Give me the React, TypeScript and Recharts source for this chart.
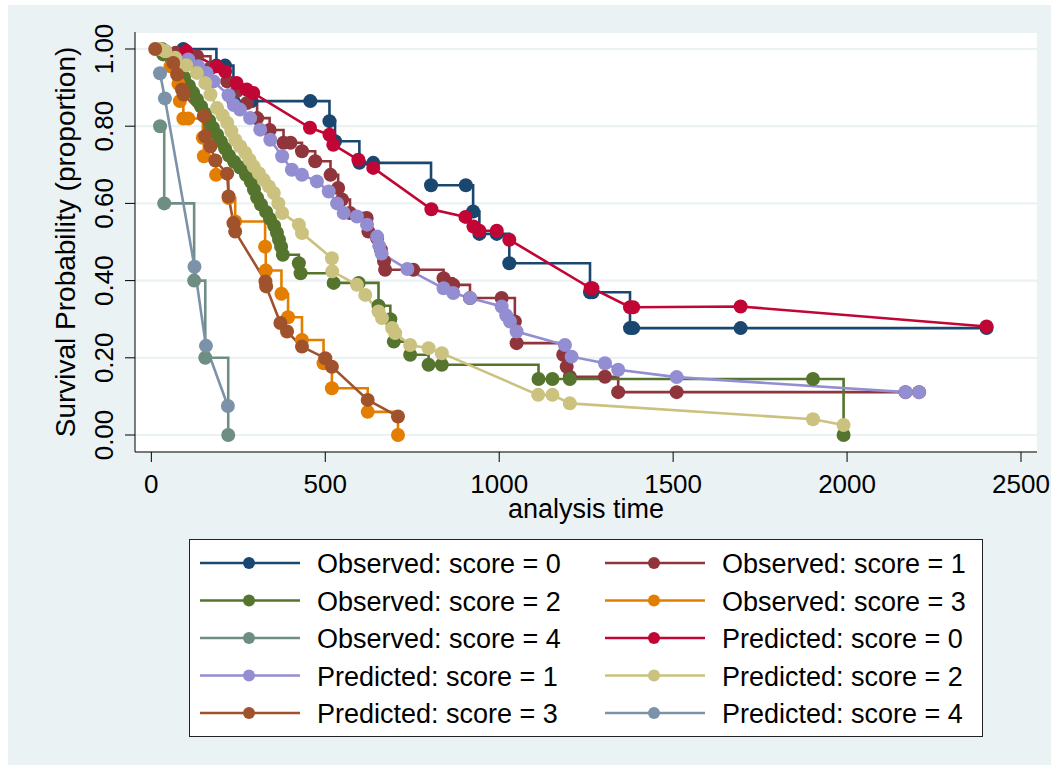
import { LineChart, Line, XAxis, YAxis, CartesianGrid, Legend, Label } from 'recharts';

type Pt = { t: number; s: number };
const pts = (rows: number[][]): Pt[] => rows.map(([t, s]) => ({ t, s }));

// Kaplan-Meier (observed) estimates, analysis time vs survival
const obs0 = pts([
  [92, 1.0], [187, 0.957], [212, 0.957], [236, 0.865], [288, 0.865], [457, 0.865], [512, 0.813],
  [528, 0.761], [598, 0.705], [638, 0.705], [804, 0.647], [904, 0.647], [925, 0.579], [943, 0.521],
  [993, 0.521], [1029, 0.445], [1261, 0.37], [1268, 0.37], [1376, 0.277], [1385, 0.277],
  [1694, 0.277], [2401, 0.277],
]);
const obs1 = pts([
  [70, 0.99], [131, 0.981], [170, 0.95], [218, 0.916], [246, 0.891], [275, 0.86], [304, 0.821],
  [340, 0.79], [380, 0.757], [400, 0.757], [433, 0.735], [471, 0.709], [515, 0.674], [537, 0.64],
  [548, 0.61], [571, 0.575], [619, 0.562], [624, 0.527], [649, 0.51], [660, 0.48], [669, 0.45],
  [672, 0.428], [753, 0.428], [840, 0.406], [868, 0.389], [916, 0.355], [1007, 0.355],
  [1045, 0.294], [1050, 0.238], [1184, 0.208], [1194, 0.177], [1203, 0.151], [1304, 0.151],
  [1342, 0.111], [1510, 0.111], [2168, 0.111], [2207, 0.111],
]);
const obs2 = pts([
  [30, 1.0], [34, 0.986], [59, 0.965], [77, 0.947], [94, 0.926], [108, 0.905], [120, 0.887],
  [131, 0.869], [143, 0.851], [154, 0.833], [166, 0.815], [177, 0.796], [189, 0.778], [200, 0.76],
  [212, 0.742], [223, 0.724], [238, 0.708], [255, 0.693], [272, 0.674], [286, 0.656], [295, 0.636],
  [304, 0.615], [315, 0.597], [330, 0.578], [341, 0.56], [353, 0.542], [361, 0.524], [367, 0.506],
  [373, 0.488], [378, 0.467], [424, 0.445], [429, 0.419], [524, 0.394], [596, 0.394], [653, 0.335],
  [687, 0.3], [697, 0.242], [744, 0.208], [797, 0.182], [835, 0.182], [1113, 0.145], [1153, 0.145],
  [1203, 0.145], [1902, 0.145], [1990, 0],
]);
const obs3 = pts([
  [55, 0.955], [78, 0.91], [82, 0.865], [92, 0.82], [106, 0.82], [148, 0.77], [151, 0.722],
  [186, 0.674], [222, 0.614], [241, 0.553], [327, 0.488], [329, 0.426], [374, 0.366], [393, 0.305],
  [433, 0.246], [495, 0.186], [519, 0.121], [622, 0.06], [709, 0],
]);
const obs4 = pts([[25, 0.8], [37, 0.6], [123, 0.4], [155, 0.2], [221, 0]]);

// model-predicted survival
const pred0 = pts([
  [100, 0.995], [188, 0.955], [212, 0.942], [245, 0.912], [274, 0.895], [293, 0.886], [456, 0.796],
  [512, 0.778], [523, 0.752], [595, 0.713], [638, 0.692], [805, 0.585], [903, 0.565], [926, 0.54],
  [943, 0.529], [993, 0.529], [1029, 0.506], [1263, 0.38], [1268, 0.38], [1376, 0.331],
  [1385, 0.331], [1694, 0.333], [2401, 0.281],
]);
const pred1 = pts([
  [40, 0.995], [106, 0.973], [135, 0.955], [159, 0.938], [179, 0.916], [222, 0.88], [237, 0.855],
  [255, 0.843], [284, 0.821], [313, 0.791], [342, 0.765], [376, 0.722], [404, 0.687], [433, 0.674],
  [476, 0.657], [510, 0.631], [534, 0.6], [553, 0.575], [591, 0.566], [620, 0.545], [649, 0.514],
  [655, 0.49], [662, 0.47], [736, 0.43], [840, 0.38], [868, 0.368], [916, 0.355], [1007, 0.333],
  [1020, 0.31], [1031, 0.294], [1050, 0.268], [1189, 0.233], [1208, 0.203], [1304, 0.186],
  [1342, 0.169], [1510, 0.15], [2168, 0.111], [2207, 0.111],
]);
const pred2 = pts([
  [25, 1.0], [40, 0.994], [69, 0.977], [100, 0.958], [131, 0.938], [155, 0.912], [170, 0.882],
  [189, 0.847], [205, 0.828], [218, 0.809], [230, 0.787], [241, 0.765], [255, 0.748], [270, 0.731],
  [282, 0.713], [294, 0.696], [309, 0.678], [323, 0.661], [338, 0.644], [352, 0.627], [365, 0.6],
  [376, 0.575], [424, 0.545], [433, 0.523], [519, 0.458], [520, 0.424], [591, 0.389], [615, 0.363],
  [653, 0.32], [663, 0.303], [692, 0.277], [701, 0.264], [744, 0.233], [797, 0.225], [835, 0.212],
  [1112, 0.104], [1153, 0.104], [1203, 0.082], [1902, 0.041], [1990, 0.026],
]);
const pred3 = pts([
  [11, 1.0], [63, 0.964], [74, 0.934], [88, 0.895], [93, 0.882], [151, 0.826], [155, 0.774],
  [170, 0.748], [184, 0.711], [218, 0.677], [222, 0.618], [236, 0.549], [241, 0.527], [328, 0.398],
  [330, 0.385], [371, 0.29], [390, 0.268], [433, 0.229], [500, 0.199], [519, 0.177], [622, 0.091],
  [709, 0.048],
]);
const pred4 = pts([[25, 0.937], [39, 0.872], [124, 0.436], [157, 0.231], [220, 0.075]]);

const xTicks = [0, 500, 1000, 1500, 2000, 2500];
const yTicks = [0, 0.2, 0.4, 0.6, 0.8, 1.0];

const series = [
  { name: 'Observed: score = 0', data: obs0, color: '#1a476f', step: true },
  { name: 'Observed: score = 1', data: obs1, color: '#90353b', step: true },
  { name: 'Observed: score = 2', data: obs2, color: '#55752f', step: true },
  { name: 'Observed: score = 3', data: obs3, color: '#e37e00', step: true },
  { name: 'Observed: score = 4', data: obs4, color: '#6e8e84', step: true },
  { name: 'Predicted: score = 0', data: pred0, color: '#c10534', step: false },
  { name: 'Predicted: score = 1', data: pred1, color: '#938dd2', step: false },
  { name: 'Predicted: score = 2', data: pred2, color: '#cac27e', step: false },
  { name: 'Predicted: score = 3', data: pred3, color: '#a0522d', step: false },
  { name: 'Predicted: score = 4', data: pred4, color: '#7b92a8', step: false },
];

const FONT = '"Liberation Sans", Arial, Helvetica, sans-serif';
const BG = '#eaf2f3';

const XTick = ({ x, y, payload }: any) => (
  <text x={x} y={y + 29} textAnchor="middle" fontSize={26} fontFamily={FONT} fill="#000">
    {payload.value}
  </text>
);

const YTick = ({ x, y, payload }: any) => (
  <text
    transform={`translate(${x - 10},${y}) rotate(-90)`}
    textAnchor="middle"
    fontSize={26}
    fontFamily={FONT}
    fill="#000"
  >
    {Number(payload.value).toFixed(2)}
  </text>
);

const renderLegend = (props: any) => {
  const items = props.payload ?? [];
  return (
    <svg width={794} height={198} style={{ display: 'block' }}>
      <rect x={0.5} y={0.5} width={793} height={197} fill="#fff" stroke="#222" />
      {items.map((it: any, i: number) => {
        const x0 = i % 2 === 0 ? 11 : 416;
        const cy = 24 + Math.floor(i / 2) * 37.5;
        return (
          <g key={it.value}>
            <line x1={x0} x2={x0 + 100} y1={cy} y2={cy} stroke={it.color} strokeWidth={2.6} />
            <circle cx={x0 + 49} cy={cy} r={6} fill={it.color} />
            <text x={x0 + 117} y={cy + 10} fontSize={27} fontFamily={FONT} fill="#000">
              {it.value}
            </text>
          </g>
        );
      })}
    </svg>
  );
};

export default function App() {
  return (
    <div style={{ position: 'absolute', left: 0, top: 0, width: 1059, height: 771, background: '#fff' }}>
      <div style={{ position: 'absolute', left: 8, top: 5, width: 1043, height: 760, background: BG }} />
      <div style={{ position: 'absolute', left: 0, top: 0 }}>
        <LineChart width={1059} height={771} margin={{ top: 32, right: 22, bottom: 239, left: 65 }}>
          <CartesianGrid vertical={false} fill="#fff" stroke={BG} strokeWidth={2.2} />
          <XAxis
            type="number"
            dataKey="t"
            domain={[-47, 2546]}
            ticks={xTicks}
            allowDataOverflow
            height={80}
            stroke="#000"
            tickSize={10}
            tick={<XTick />}
          >
            <Label
              content={({ viewBox }: any) => (
                <text
                  x={viewBox.x + viewBox.width / 2}
                  y={viewBox.y + 66}
                  textAnchor="middle"
                  fontSize={27}
                  fontFamily={FONT}
                  fill="#000"
                >
                  analysis time
                </text>
              )}
            />
          </XAxis>
          <YAxis
            type="number"
            domain={[-0.044, 1.044]}
            ticks={yTicks}
            allowDataOverflow
            width={70}
            stroke="#000"
            tickSize={10}
            tick={<YTick />}
          >
            <Label
              content={({ viewBox }: any) => (
                <text
                  transform={`translate(${viewBox.x + 10},${viewBox.y + viewBox.height / 2}) rotate(-90)`}
                  textAnchor="middle"
                  fontSize={28}
                  fontFamily={FONT}
                  fill="#000"
                >
                  Survival Probability (proportion)
                </text>
              )}
            />
          </YAxis>
          <Legend
            layout="vertical"
            align="center"
            verticalAlign="middle"
            content={renderLegend}
            wrapperStyle={{ left: 189, top: 539, width: 794, height: 198 }}
          />
          {series.map((sr) => (
            <Line
              key={sr.name}
              name={sr.name}
              data={sr.data}
              dataKey="s"
              type={sr.step ? 'stepAfter' : 'linear'}
              stroke={sr.color}
              strokeWidth={2.6}
              dot={{ r: 7, fill: sr.color, stroke: sr.color, strokeWidth: 0 }}
              activeDot={false}
              isAnimationActive={false}
            />
          ))}
        </LineChart>
      </div>
    </div>
  );
}
